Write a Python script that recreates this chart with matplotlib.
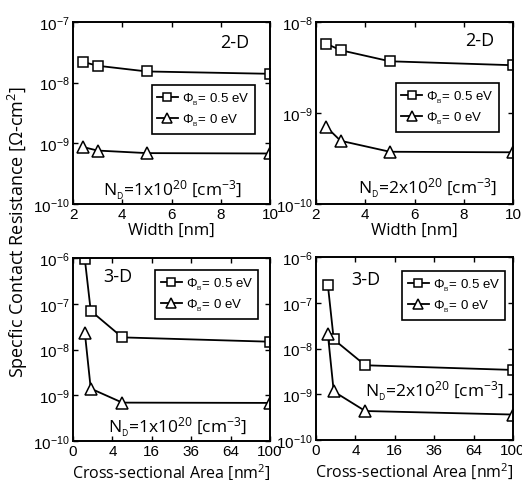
import numpy as np
import matplotlib
matplotlib.use('Agg')
import matplotlib.pyplot as plt

plt.rcParams['font.family'] = ['Liberation Sans', 'DejaVu Sans']
plt.rcParams['mathtext.fontset'] = 'custom'
plt.rcParams['mathtext.rm'] = 'Liberation Sans'
plt.rcParams['mathtext.it'] = 'Liberation Sans:italic'
plt.rcParams['mathtext.default'] = 'regular'

LABEL_FONT = ['Open Sans', 'DejaVu Sans']

# ---- data ----
width_nm = [2.4, 3, 5, 10]
r2d_n1_05 = [2.2e-8, 1.9e-8, 1.53e-8, 1.4e-8]
r2d_n1_00 = [8.7e-10, 7.6e-10, 6.9e-10, 6.8e-10]
r2d_n2_05 = [5.8e-9, 4.9e-9, 3.7e-9, 3.35e-9]
r2d_n2_00 = [7.1e-10, 4.95e-10, 3.75e-10, 3.7e-10]

area_nm2 = [0.36, 0.81, 6.25, 100]
r3d_n1_05 = [9.5e-7, 7.0e-8, 1.84e-8, 1.48e-8]
r3d_n1_00 = [2.35e-8, 1.4e-9, 6.9e-10, 6.8e-10]
r3d_n2_05 = [2.5e-7, 1.58e-8, 4.3e-9, 3.4e-9]
r3d_n2_00 = [2.1e-8, 1.15e-9, 4.3e-10, 3.6e-10]

width_ticks = [2, 4, 6, 8, 10]
area_ticks = [0, 4, 16, 36, 64, 100]

W, H = 522, 481
fig = plt.figure(figsize=(W / 100, H / 100), dpi=100)


def make_ax(l, r, t, b):
    return fig.add_axes([l / W, 1 - b / H, (r - l) / W, (b - t) / H])


def draw(ax, x, y05, y00, ylim, xdata_ticks, xlim, xlabel, dim, dim_xy, nd, nd_xy, leg_bbox,
         sqrt_x=False, xlabelpad=0, xlabelsize=12):
    ax.plot(x, y05, '-', color='k', lw=1.3, marker='s', ms=6.5, mfc='white', mec='k', mew=1.1,
            label=r'$\Phi_{\rm _B}$= 0.5 eV')
    ax.plot(x, y00, '-', color='k', lw=1.3, marker='^', ms=8.5, mfc='white', mec='k', mew=1.1,
            label=r'$\Phi_{\rm _B}$= 0 eV')
    ax.set_yscale('log')
    if sqrt_x:
        ax.set_xscale('function', functions=(lambda v: np.sqrt(np.clip(v, 0, None)), np.square))
    ax.set_xlim(*xlim)
    ax.set_ylim(*ylim)
    ax.set_xticks(xdata_ticks)
    ax.set_xticklabels([str(t) for t in xdata_ticks])
    lo, hi = int(np.log10(ylim[0])), int(np.log10(ylim[1]))
    ax.set_yticks([10.0 ** e for e in range(lo, hi + 1)])
    ax.set_yticklabels([r'$10^{%d}$' % e for e in range(lo, hi + 1)])
    ax.yaxis.set_minor_locator(matplotlib.ticker.NullLocator())
    ax.xaxis.set_minor_locator(matplotlib.ticker.NullLocator())
    ax.tick_params(direction='in', top=True, right=True, length=3.5, width=1, labelsize=11, pad=2.5)
    for s in ax.spines.values():
        s.set_linewidth(1.4)
    ax.set_xlabel(xlabel, fontsize=xlabelsize, family=LABEL_FONT, labelpad=xlabelpad)
    ax.text(*dim_xy, dim, transform=ax.transAxes, fontsize=13, family=LABEL_FONT, ha='center', va='center')
    ax.text(*nd_xy, nd, transform=ax.transAxes, fontsize=12.5, family=LABEL_FONT, ha='center', va='center')
    leg = ax.legend(loc='center', bbox_to_anchor=leg_bbox, fontsize=9.5, frameon=True, fancybox=False,
                    handlelength=1.6, handletextpad=0.3, borderpad=0.4, labelspacing=0.35, borderaxespad=0,
                    markerscale=0.9)
    leg.get_frame().set_edgecolor('k')
    leg.get_frame().set_linewidth(1.2)
    leg.get_frame().set_alpha(1)


nd1 = r'$N_{_D}$=1x10$^{20}$ [cm$^{-3}$]'
nd2 = r'$N_{_D}$=2x10$^{20}$ [cm$^{-3}$]'

ax1 = make_ax(73, 270, 23, 205)
draw(ax1, width_nm, r2d_n1_05, r2d_n1_00, (1e-10, 1e-7), width_ticks, (2, 10), 'Width [nm]',
     '2-D', (0.82, 0.89), nd1, (0.505, 0.08), (0.66, 0.52))

ax2 = make_ax(316, 513, 23, 205)
draw(ax2, width_nm, r2d_n2_05, r2d_n2_00, (1e-10, 1e-8), width_ticks, (2, 10), 'Width [nm]',
     '2-D', (0.83, 0.90), nd2, (0.565, 0.09), (0.667, 0.53))

ax3 = make_ax(73, 270, 259, 442)
draw(ax3, area_nm2, r3d_n1_05, r3d_n1_00, (1e-10, 1e-6), area_ticks, (0, 100),
     r'Cross-sectional Area [nm$^2$]',
     '3-D', (0.225, 0.9), nd1, (0.53, 0.08), (0.68, 0.80), sqrt_x=True, xlabelpad=2.5, xlabelsize=11.5)

ax4 = make_ax(316, 513, 258, 441)
draw(ax4, area_nm2, r3d_n2_05, r3d_n2_00, (1e-10, 1e-6), area_ticks, (0, 100),
     r'Cross-sectional Area [nm$^2$]',
     '3-D', (0.255, 0.88), nd2, (0.60, 0.27), (0.70, 0.79), sqrt_x=True, xlabelpad=2.5, xlabelsize=11.5)

fig.text(0.035, 0.517, r'Specfic Contact Resistance [$\Omega$-cm$^2$]', rotation=90,
         fontsize=13, family=LABEL_FONT, ha='center', va='center')

fig.savefig('out.png', dpi=100)
